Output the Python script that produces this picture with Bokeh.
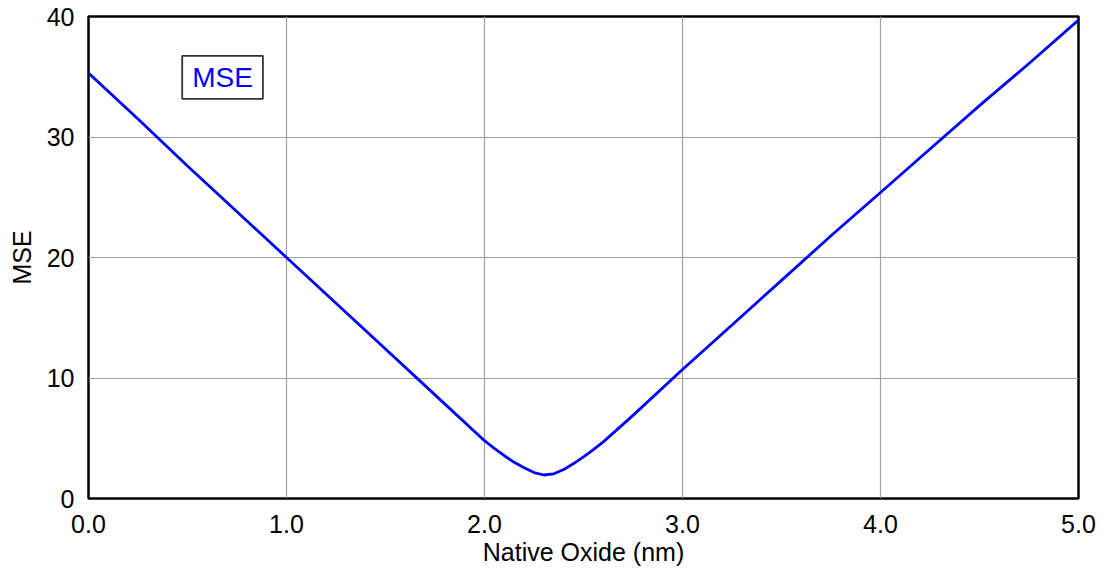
from bokeh.plotting import figure
from bokeh.models import Range1d, Label, FixedTicker
from bokeh.embed import file_html
from bokeh.resources import INLINE

# Data
oxide_nm = [0.0, 0.25, 0.5, 0.75, 1.0, 1.25, 1.5, 1.75, 2.0, 2.05, 2.1, 2.15, 2.2, 2.25, 2.3,
            2.35, 2.4, 2.45, 2.5, 2.55, 2.6, 2.75, 3.0, 3.25, 3.5, 3.75, 4.0, 4.25, 4.5, 4.75, 5.0]
mse = [35.3, 31.5, 27.6, 23.8, 20.0, 16.2, 12.4, 8.6, 4.8, 4.15, 3.55, 3.0, 2.55, 2.15, 1.95,
       2.05, 2.4, 2.9, 3.45, 4.05, 4.7, 6.9, 10.7, 14.4, 18.1, 21.8, 25.4, 29.0, 32.6, 36.1, 39.7]
x_ticks = [0, 1, 2, 3, 4, 5]
x_tick_labels = {0: "0.0", 1: "1.0", 2: "2.0", 3: "3.0", 4: "4.0", 5: "5.0"}
y_ticks = [0, 10, 20, 30, 40]
series_name = "MSE"

FONT = "Liberation Sans"

p = figure(width=1110, height=579, output_backend="svg", toolbar_location=None,
           x_range=Range1d(0, 5), y_range=Range1d(0, 40),
           min_border_left=88, min_border_right=32, min_border_top=16, min_border_bottom=81)

p.line(oxide_nm, mse, line_color="#0000ff", line_width=2.8)

p.outline_line_color = "black"
p.outline_line_width = 2.5
p.outline_line_alpha = 1.0
p.background_fill_color = "white"
p.border_fill_color = "white"

for ax in (p.xaxis[0], p.yaxis[0]):
    ax.axis_line_color = None
    ax.major_tick_line_color = None
    ax.minor_tick_line_color = None
    ax.major_label_text_font = FONT
    ax.major_label_text_font_size = "25px"
    ax.major_label_text_color = "black"
    ax.axis_label_text_font = FONT
    ax.axis_label_text_font_size = "25px"
    ax.axis_label_text_font_style = "normal"
    ax.axis_label_text_color = "black"

p.xaxis.ticker = FixedTicker(ticks=x_ticks)
p.xaxis.major_label_overrides = x_tick_labels
p.xaxis.axis_label = "Native Oxide (nm)"
p.xaxis.major_label_standoff = 10
p.xaxis.axis_label_standoff = 2

p.yaxis.ticker = FixedTicker(ticks=y_ticks)
p.yaxis.axis_label = "MSE"
p.yaxis.major_label_standoff = 8
p.yaxis.axis_label_standoff = 8

p.xgrid.grid_line_color = "#a0a0a0"
p.ygrid.grid_line_color = "#a0a0a0"
p.xgrid.grid_line_width = 1.2
p.ygrid.grid_line_width = 1.2

legend_label = Label(x=0.677, y=34.95, text=series_name, text_align="center",
                     text_baseline="middle", text_font=FONT, text_font_size="28px",
                     text_color="#0000ff", border_line_color="#333333", border_line_width=1.8,
                     background_fill_color="white", padding=(10, 6))
p.add_layout(legend_label)

open("out.html", "w").write(file_html(p, INLINE))
